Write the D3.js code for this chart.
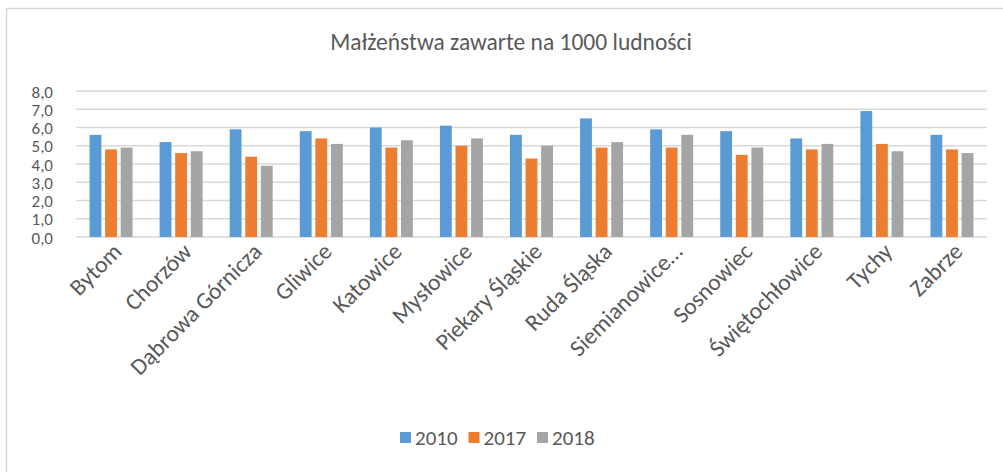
<!DOCTYPE html>
<html>
<head>
<meta charset="utf-8">
<script src="https://d3js.org/d3.v7.min.js"></script>
<style>
  body { margin: 0; background: #fff; }
  text { font-family: Carlito, Calibri, Lato, sans-serif; fill: #595959; }
</style>
</head>
<body>
<div id="vis"></div>
<script>
const WIDTH = 1003;
const HEIGHT = 472;
const MARGINS = {left: 76, right: 16, top: 91, bottom: 235};

const CITIES = ["Bytom", "Chorzów", "Dąbrowa Górnicza", "Gliwice", "Katowice", "Mysłowice",
  "Piekary Śląskie", "Ruda Śląska", "Siemianowice…", "Sosnowiec", "Świętochłowice", "Tychy", "Zabrze"];
const YEARS = ["2010", "2017", "2018"];
const VALUES_2010 = [5.6, 5.2, 5.9, 5.8, 6.0, 6.1, 5.6, 6.5, 5.9, 5.8, 5.4, 6.9, 5.6];
const VALUES_2017 = [4.8, 4.6, 4.4, 5.4, 4.9, 5.0, 4.3, 4.9, 4.9, 4.5, 4.8, 5.1, 4.8];
const VALUES_2018 = [4.9, 4.7, 3.9, 5.1, 5.3, 5.4, 5.0, 5.2, 5.6, 4.9, 5.1, 4.7, 4.6];
const Y_TICKS = [0, 1, 2, 3, 4, 5, 6, 7, 8];
const COLORS = ["#5B9BD5", "#ED7D31", "#A5A5A5"];

const SERIES = [VALUES_2010, VALUES_2017, VALUES_2018];
const data = CITIES.map((c, i) => ({city: c, vals: SERIES.map(s => s[i])}));

const svg = d3.select("#vis").append("svg")
  .attr("width", WIDTH).attr("height", HEIGHT);

// frame border
svg.append("rect")
  .attr("x", 6.5).attr("y", 8.5)
  .attr("width", WIDTH).attr("height", HEIGHT)
  .attr("fill", "none").attr("stroke", "#D9D9D9").attr("stroke-width", 1.5);

const VIS_W = WIDTH - MARGINS.left - MARGINS.right;
const X_SCALE = d3.scaleBand().domain(CITIES).range([MARGINS.left, MARGINS.left + VIS_W]);
const X_INNER = d3.scaleBand().domain(YEARS).range([0, 43]).paddingInner(0.24);
const Y_SCALE = d3.scaleLinear().domain([0, 8]).range([237, 91]);

// title
svg.append("text")
  .attr("x", 511).attr("y", 50)
  .attr("text-anchor", "middle")
  .attr("font-size", "23.5px")
  .text("Małżeństwa zawarte na 1000 ludności");

// gridlines
svg.append("g")
  .selectAll("line")
  .data(Y_TICKS)
  .enter().append("line")
    .attr("x1", X_SCALE.range()[0]).attr("x2", X_SCALE.range()[1])
    .attr("y1", d => Y_SCALE(d)).attr("y2", d => Y_SCALE(d))
    .attr("stroke", "#D9D9D9").attr("stroke-width", 1.5);

// y axis labels
const yAxis = svg.append("g")
  .attr("transform", "translate(" + (MARGINS.left - 20) + ",0)")
  .call(d3.axisLeft(Y_SCALE).tickValues(Y_TICKS).tickSize(0)
    .tickFormat(d => d3.format(".1f")(d).replace(".", ",")));
yAxis.select(".domain").remove();
yAxis.selectAll("text")
  .attr("font-size", "17px").attr("fill", "#595959")
  .attr("dx", "0").attr("dy", "0.36em")
  .style("font-family", "Carlito, Calibri, Lato, sans-serif");

// bars
const groups = svg.append("g")
  .selectAll("g")
  .data(data)
  .enter().append("g")
    .attr("transform", d => "translate(" + (X_SCALE(d.city) + X_SCALE.bandwidth() / 2 - 21.5) + ",0)");

groups.selectAll("rect")
  .data(d => d.vals.map((v, j) => ({year: YEARS[j], value: v, j: j})))
  .enter().append("rect")
    .attr("x", d => X_INNER(d.year))
    .attr("width", X_INNER.bandwidth())
    .attr("y", d => Y_SCALE(d.value))
    .attr("height", d => Y_SCALE(0) - Y_SCALE(d.value))
    .attr("fill", d => COLORS[d.j]);

// x labels
svg.append("g")
  .selectAll("text")
  .data(CITIES)
  .enter().append("text")
    .attr("transform", d => "translate(" + (X_SCALE(d) + X_SCALE.bandwidth() / 2 + 12) + ",253) rotate(-45)")
    .attr("text-anchor", "end")
    .attr("font-size", "23.5px")
    .text(d => d);

// legend
const legend = svg.append("g")
  .selectAll("g")
  .data(YEARS)
  .enter().append("g")
    .attr("transform", (d, i) => "translate(" + (400 + i * 68.5) + ",432)");
legend.append("rect")
  .attr("width", 11).attr("height", 11)
  .attr("fill", (d, i) => COLORS[i]);
legend.append("text")
  .attr("x", 15).attr("y", 12.5)
  .attr("font-size", "21px")
  .text(d => d);
</script>
</body>
</html>
